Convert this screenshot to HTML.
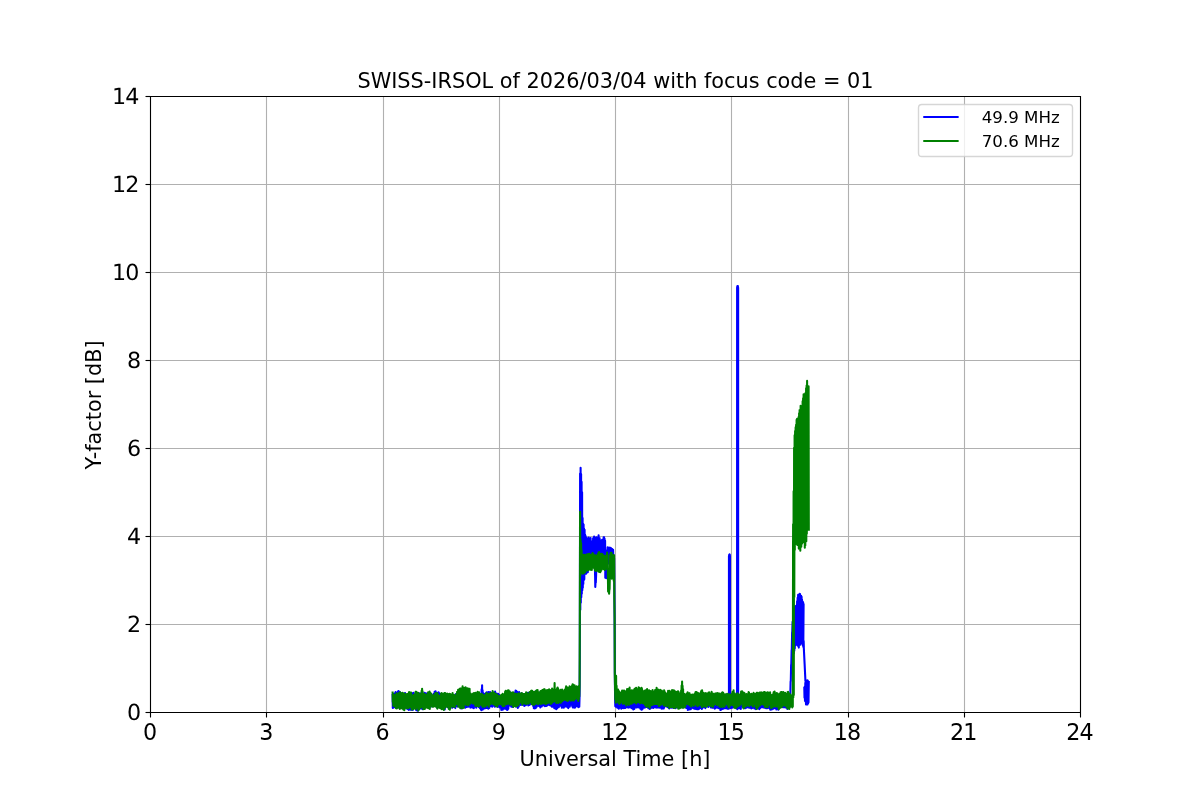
<!DOCTYPE html>
<html lang="en">
<head>
<meta charset="utf-8">
<title>SWISS-IRSOL of 2026/03/04 with focus code = 01</title>
<style>
html,body{margin:0;padding:0;background:#fff;}
body{width:1200px;height:800px;overflow:hidden;}
svg{display:block;}
svg text{font-family:"DejaVu Sans", "Liberation Sans", sans-serif;fill:#000;}
.grid line{stroke:#b0b0b0;stroke-width:1.11;}
.axis line{stroke:#000;stroke-width:1.11;}
.tl{font-size:22.22px;}
.lab{font-size:20.83px;}
.leg{font-size:16.67px;white-space:pre;}
.series{fill:none;stroke-width:2.08;stroke-linejoin:round;stroke-linecap:square;}
</style>
</head>
<body>
<svg width="1200" height="800" viewBox="0 0 1200 800">
<rect x="0" y="0" width="1200" height="800" fill="#ffffff"/>
<g class="grid">
<line x1="266.5" y1="96.5" x2="266.5" y2="712.5"/>
<line x1="383.5" y1="96.5" x2="383.5" y2="712.5"/>
<line x1="499.5" y1="96.5" x2="499.5" y2="712.5"/>
<line x1="615.5" y1="96.5" x2="615.5" y2="712.5"/>
<line x1="731.5" y1="96.5" x2="731.5" y2="712.5"/>
<line x1="848.5" y1="96.5" x2="848.5" y2="712.5"/>
<line x1="964.5" y1="96.5" x2="964.5" y2="712.5"/>
<line x1="150.5" y1="624.5" x2="1080.5" y2="624.5"/>
<line x1="150.5" y1="536.5" x2="1080.5" y2="536.5"/>
<line x1="150.5" y1="448.5" x2="1080.5" y2="448.5"/>
<line x1="150.5" y1="360.5" x2="1080.5" y2="360.5"/>
<line x1="150.5" y1="272.5" x2="1080.5" y2="272.5"/>
<line x1="150.5" y1="184.5" x2="1080.5" y2="184.5"/>
</g>
<clipPath id="ax"><rect x="150.5" y="96.5" width="930" height="616"/></clipPath>
<g clip-path="url(#ax)">
<path class="series" stroke="#0000ff" d="M392.6,694.9 L392.8,707.9 L393.1,694.1 L393.3,707.6 L393.6,697.2 L393.8,707.3 L394.1,694.0 L394.3,707.1 L394.6,693.2 L394.8,704.8 L395.1,695.5 L395.3,704.8 L395.6,692.1 L395.8,704.6 L396.1,693.0 L396.3,706.6 L396.6,693.5 L396.8,706.0 L397.1,693.0 L397.3,704.0 L397.6,692.2 L397.8,703.2 L398.1,691.2 L398.3,704.0 L398.6,691.1 L398.8,707.4 L399.1,692.0 L399.3,707.5 L399.6,694.5 L399.8,706.9 L400.1,692.3 L400.3,707.6 L400.6,693.6 L400.8,706.0 L401.1,693.2 L401.3,705.9 L401.6,694.0 L401.8,707.4 L402.1,694.9 L402.3,705.8 L402.6,695.1 L402.8,707.5 L403.1,695.1 L403.3,708.4 L403.6,697.9 L403.8,705.3 L404.1,693.5 L404.3,706.4 L404.6,693.4 L404.8,706.7 L405.1,693.0 L405.3,706.9 L405.6,697.3 L405.8,705.3 L406.1,694.7 L406.3,708.4 L406.6,698.0 L406.8,708.3 L407.1,698.7 L407.3,708.5 L407.6,698.7 L407.8,709.1 L408.1,700.5 L408.3,708.4 L408.6,698.6 L408.8,709.9 L409.1,695.1 L409.3,709.6 L409.6,695.0 L409.8,706.0 L410.1,697.1 L410.3,709.6 L410.6,697.5 L410.8,709.1 L411.1,695.1 L411.3,709.6 L411.6,695.8 L411.8,709.3 L412.1,693.8 L412.3,708.5 L412.6,693.4 L412.8,710.0 L413.1,694.8 L413.3,708.1 L413.6,692.7 L413.8,707.6 L414.1,695.8 L414.3,707.5 L414.6,695.3 L414.8,707.6 L415.1,700.2 L415.3,706.1 L415.6,695.9 L415.8,709.0 L416.1,696.1 L416.3,710.2 L416.6,696.1 L416.8,709.8 L417.1,694.4 L417.3,705.9 L417.6,694.5 L417.8,710.7 L418.1,694.3 L418.3,707.9 L418.6,695.5 L418.8,707.0 L419.1,693.6 L419.3,708.0 L419.6,694.5 L419.8,708.6 L420.1,693.3 L420.3,707.0 L420.6,694.3 L420.8,708.3 L421.1,694.1 L421.3,706.9 L421.6,695.8 L421.8,707.5 L422.1,695.6 L422.3,709.1 L422.6,696.9 L422.8,704.7 L423.1,693.9 L423.3,706.1 L423.6,695.0 L423.8,706.3 L424.1,694.2 L424.3,704.7 L424.6,692.8 L424.8,703.8 L425.1,696.3 L425.3,704.8 L425.6,693.6 L425.8,703.3 L426.1,694.0 L426.3,705.9 L426.6,694.8 L426.8,704.2 L427.1,693.4 L427.3,706.2 L427.6,694.1 L427.8,705.9 L428.1,696.3 L428.3,705.1 L428.6,695.1 L428.8,705.0 L429.1,695.6 L429.3,702.6 L429.6,696.3 L429.8,701.6 L430.1,698.1 L430.3,703.6 L430.6,696.4 L430.8,706.7 L431.1,695.3 L431.3,704.3 L431.6,698.1 L431.8,701.1 L432.1,696.8 L432.3,705.1 L432.6,695.4 L432.8,701.7 L433.1,695.3 L433.3,703.9 L433.6,693.8 L433.8,704.1 L434.1,695.1 L434.3,703.9 L434.6,691.8 L434.8,701.0 L435.1,692.1 L435.3,704.7 L435.6,691.4 L435.8,705.9 L436.1,693.3 L436.3,704.8 L436.6,693.2 L436.8,707.5 L437.1,692.8 L437.3,706.6 L437.6,695.1 L437.8,706.4 L438.1,694.3 L438.3,706.7 L438.6,692.4 L438.8,703.1 L439.1,693.2 L439.3,705.6 L439.6,693.9 L439.8,704.5 L440.1,693.7 L440.3,703.2 L440.6,696.3 L440.8,705.7 L441.1,696.3 L441.3,706.2 L441.6,695.9 L441.8,707.4 L442.1,694.6 L442.3,707.1 L442.6,694.5 L442.8,706.1 L443.1,694.2 L443.3,706.8 L443.6,695.7 L443.8,708.6 L444.1,695.3 L444.3,708.5 L444.6,695.3 L444.8,709.5 L445.1,698.4 L445.3,706.6 L445.6,696.6 L445.8,706.7 L446.1,695.1 L446.3,705.3 L446.6,696.6 L446.8,705.0 L447.1,696.6 L447.3,704.2 L447.6,700.5 L447.8,707.1 L448.1,698.7 L448.3,707.5 L448.6,696.9 L448.8,706.0 L449.1,696.5 L449.3,703.8 L449.6,698.9 L449.8,707.4 L450.1,698.5 L450.3,706.9 L450.6,698.0 L450.8,706.3 L451.1,695.5 L451.3,705.3 L451.6,698.1 L451.8,705.2 L452.1,698.1 L452.3,707.7 L452.6,695.4 L452.8,702.0 L453.1,696.3 L453.3,706.7 L453.6,697.4 L453.8,707.0 L454.1,695.7 L454.3,703.5 L454.6,695.6 L454.8,707.2 L455.1,695.2 L455.3,708.1 L455.6,694.2 L455.8,706.0 L456.1,694.4 L456.3,704.3 L456.6,694.8 L456.8,705.2 L457.1,697.2 L457.3,706.5 L457.6,696.2 L457.8,704.3 L458.1,695.8 L458.3,702.4 L458.6,694.7 L458.8,705.6 L459.1,694.4 L459.3,706.5 L459.6,695.7 L459.8,707.0 L460.1,694.2 L460.3,702.4 L460.6,693.3 L460.8,708.1 L461.1,693.1 L461.3,707.4 L461.6,695.1 L461.8,708.5 L462.1,695.1 L462.3,707.8 L462.6,694.0 L462.8,707.4 L463.1,695.6 L463.3,705.3 L463.6,696.2 L463.8,704.0 L464.1,694.6 L464.3,705.9 L464.6,695.3 L464.8,707.5 L465.1,694.7 L465.3,707.8 L465.6,696.1 L465.8,705.2 L466.1,696.9 L466.3,706.1 L466.6,695.3 L466.8,707.0 L467.1,697.6 L467.3,705.3 L467.6,695.6 L467.8,704.7 L468.1,699.1 L468.3,706.8 L468.6,698.2 L468.8,705.8 L469.1,695.9 L469.3,705.8 L469.6,696.3 L469.8,704.4 L470.1,695.4 L470.3,707.6 L470.6,694.8 L470.8,705.2 L471.1,694.7 L471.3,707.2 L471.6,697.3 L471.8,705.0 L472.1,697.5 L472.3,707.6 L472.6,694.8 L472.8,707.1 L473.1,698.0 L473.3,707.3 L473.6,699.4 L473.8,708.3 L474.1,695.7 L474.3,707.0 L474.6,698.6 L474.8,706.8 L475.1,694.5 L475.3,704.9 L475.6,694.6 L475.8,706.4 L476.1,693.9 L476.3,707.7 L476.6,699.5 L476.8,706.5 L477.1,697.4 L477.3,706.2 L477.6,696.3 L477.8,702.2 L478.1,695.1 L478.3,704.9 L478.6,697.2 L478.8,706.9 L479.1,693.9 L479.3,705.3 L479.6,695.5 L479.8,708.1 L480.1,694.2 L480.3,707.6 L480.6,695.6 L480.8,709.3 L481.1,695.7 L481.3,710.2 L481.6,689.4 L481.8,705.6 L482.1,685.2 L482.3,709.1 L482.6,690.2 L482.8,709.6 L483.1,693.1 L483.3,707.3 L483.6,693.6 L483.8,707.8 L484.1,694.4 L484.3,708.5 L484.6,696.3 L484.8,707.9 L485.1,693.8 L485.3,708.3 L485.6,694.1 L485.8,705.2 L486.1,693.1 L486.3,707.7 L486.6,692.2 L486.8,708.0 L487.1,693.7 L487.3,707.8 L487.6,692.8 L487.8,707.8 L488.1,693.2 L488.3,708.8 L488.6,692.1 L488.8,706.4 L489.1,693.1 L489.3,707.9 L489.6,693.5 L489.8,706.7 L490.1,692.1 L490.3,703.7 L490.6,693.3 L490.8,705.4 L491.1,693.6 L491.3,704.7 L491.6,693.5 L491.8,706.4 L492.1,694.3 L492.3,706.7 L492.6,695.6 L492.8,705.3 L493.1,695.3 L493.3,704.2 L493.6,695.5 L493.8,705.6 L494.1,693.4 L494.3,705.1 L494.6,694.4 L494.8,706.8 L495.1,691.6 L495.3,706.5 L495.6,695.3 L495.8,703.7 L496.1,693.5 L496.3,706.1 L496.6,693.6 L496.8,703.8 L497.1,697.8 L497.3,705.1 L497.6,694.4 L497.8,707.0 L498.1,693.9 L498.3,706.2 L498.6,697.4 L498.8,705.6 L499.1,694.9 L499.3,706.3 L499.6,695.7 L499.8,707.5 L500.1,696.5 L500.3,707.0 L500.6,696.8 L500.8,708.0 L501.1,696.2 L501.3,709.9 L501.6,696.8 L501.8,706.6 L502.1,695.8 L502.3,709.6 L502.6,696.0 L502.8,709.7 L503.1,696.0 L503.3,708.5 L503.6,696.3 L503.8,707.3 L504.1,696.4 L504.3,707.4 L504.6,694.9 L504.8,708.8 L505.1,695.5 L505.3,708.7 L505.6,695.4 L505.8,706.1 L506.1,693.1 L506.3,709.1 L506.6,692.8 L506.8,709.8 L507.1,692.6 L507.3,709.9 L507.6,694.1 L507.8,709.5 L508.1,692.6 L508.3,708.7 L508.6,691.3 L508.8,704.5 L509.1,694.0 L509.3,705.6 L509.6,693.1 L509.8,705.4 L510.1,692.3 L510.3,701.6 L510.6,693.0 L510.8,703.7 L511.1,694.7 L511.3,706.8 L511.6,694.7 L511.8,706.8 L512.1,693.7 L512.3,704.5 L512.6,693.6 L512.8,707.0 L513.1,695.1 L513.3,704.1 L513.6,694.6 L513.8,705.5 L514.1,694.5 L514.3,703.9 L514.6,693.5 L514.8,705.7 L515.1,692.2 L515.3,705.9 L515.6,690.5 L515.8,706.6 L516.1,690.7 L516.3,704.7 L516.6,691.4 L516.8,706.1 L517.1,692.7 L517.3,705.7 L517.6,692.2 L517.8,708.0 L518.1,694.2 L518.3,704.0 L518.6,692.7 L518.8,706.6 L519.1,692.1 L519.3,704.4 L519.6,693.5 L519.8,704.5 L520.1,693.7 L520.3,703.6 L520.6,694.8 L520.8,704.9 L521.1,694.4 L521.3,703.8 L521.6,693.3 L521.8,703.3 L522.1,693.9 L522.3,704.8 L522.6,695.6 L522.8,704.6 L523.1,694.0 L523.3,703.6 L523.6,694.5 L523.8,703.0 L524.1,694.4 L524.3,705.9 L524.6,694.7 L524.8,703.3 L525.1,696.3 L525.3,705.3 L525.6,694.6 L525.8,705.3 L526.1,697.8 L526.3,704.7 L526.6,693.5 L526.8,702.6 L527.1,695.3 L527.3,704.1 L527.6,694.4 L527.8,701.2 L528.1,692.9 L528.3,705.5 L528.6,694.0 L528.8,703.9 L529.1,694.4 L529.3,705.0 L529.6,694.9 L529.8,704.6 L530.1,695.4 L530.3,703.9 L530.6,695.5 L530.8,701.3 L531.1,693.7 L531.3,702.7 L531.6,693.0 L531.8,702.6 L532.1,693.7 L532.3,704.3 L532.6,696.5 L532.8,704.7 L533.1,695.1 L533.3,706.3 L533.6,694.2 L533.8,708.2 L534.1,697.9 L534.3,707.1 L534.6,693.4 L534.8,708.5 L535.1,693.4 L535.3,707.4 L535.6,691.6 L535.8,708.0 L536.1,691.5 L536.3,706.1 L536.6,691.6 L536.8,706.6 L537.1,694.6 L537.3,705.5 L537.6,695.0 L537.8,704.0 L538.1,694.5 L538.3,705.3 L538.6,694.3 L538.8,706.0 L539.1,693.2 L539.3,704.2 L539.6,692.5 L539.8,705.8 L540.1,693.9 L540.3,707.4 L540.6,694.8 L540.8,706.5 L541.1,692.2 L541.3,706.4 L541.6,693.1 L541.8,706.4 L542.1,694.1 L542.3,703.4 L542.6,694.8 L542.8,704.6 L543.1,694.9 L543.3,704.7 L543.6,695.5 L543.8,705.5 L544.1,696.7 L544.3,704.0 L544.6,695.8 L544.8,706.1 L545.1,695.5 L545.3,701.7 L545.6,694.0 L545.8,705.8 L546.1,693.8 L546.3,706.0 L546.6,694.8 L546.8,703.6 L547.1,696.2 L547.3,705.5 L547.6,694.7 L547.8,704.2 L548.1,696.7 L548.3,704.7 L548.6,696.8 L548.8,703.1 L549.1,694.9 L549.3,704.9 L549.6,696.3 L549.8,703.9 L550.1,696.0 L550.3,705.4 L550.6,693.5 L550.8,705.5 L551.1,694.6 L551.3,705.6 L551.6,694.5 L551.8,706.8 L552.1,695.2 L552.3,706.4 L552.6,694.0 L552.8,703.1 L553.1,694.3 L553.3,706.7 L553.6,696.0 L553.8,706.7 L554.1,695.1 L554.3,708.3 L554.6,696.8 L554.8,707.8 L555.1,697.0 L555.3,708.5 L555.6,696.2 L555.8,705.8 L556.1,695.5 L556.3,709.3 L556.6,695.5 L556.8,708.3 L557.1,695.8 L557.3,708.3 L557.6,695.3 L557.8,706.0 L558.1,696.6 L558.3,706.4 L558.6,695.0 L558.8,707.1 L559.1,696.3 L559.3,704.5 L559.6,696.5 L559.8,703.2 L560.1,693.6 L560.3,705.7 L560.6,692.8 L560.8,705.8 L561.1,693.1 L561.3,706.1 L561.6,692.9 L561.8,707.8 L562.1,693.4 L562.3,704.2 L562.6,692.3 L562.8,707.5 L563.1,693.0 L563.3,706.8 L563.6,695.0 L563.8,707.7 L564.1,695.8 L564.3,706.1 L564.6,694.4 L564.8,706.2 L565.1,694.2 L565.3,706.4 L565.6,692.7 L565.8,705.7 L566.1,693.1 L566.3,705.2 L566.6,693.9 L566.8,706.8 L567.1,695.1 L567.3,704.6 L567.6,693.5 L567.8,707.4 L568.1,693.4 L568.3,708.1 L568.6,694.7 L568.8,705.3 L569.1,694.9 L569.3,706.6 L569.6,693.9 L569.8,706.8 L570.1,696.6 L570.3,704.2 L570.6,695.2 L570.8,703.9 L571.1,695.0 L571.3,704.8 L571.6,693.2 L571.8,702.6 L572.1,694.3 L572.3,706.5 L572.6,693.7 L572.8,707.5 L573.1,696.0 L573.3,706.4 L573.6,696.5 L573.8,707.3 L574.1,695.0 L574.3,707.6 L574.6,695.9 L574.8,706.7 L575.1,695.0 L575.3,707.4 L575.6,694.8 L575.8,706.4 L576.1,696.5 L576.3,705.8 L576.6,693.8 L576.8,703.3 L577.1,694.1 L577.3,706.0 L577.6,694.6 L577.8,706.3 L578.1,694.5 L578.3,707.3 L578.6,694.0 L578.8,706.6 L579.1,695.6 L579.3,706.8 L579.6,695.2 L579.8,656.4 L580.1,473.5 L580.3,609.8 L580.6,467.8 L580.8,602.8 L581.1,474.1 L581.3,597.2 L581.6,481.9 L581.8,593.7 L582.1,492.3 L582.3,590.2 L582.6,518.0 L582.8,587.7 L583.1,523.9 L583.3,583.9 L583.6,524.6 L583.8,580.2 L584.1,528.9 L584.3,579.3 L584.6,529.7 L584.8,573.2 L585.1,534.7 L585.3,573.6 L585.6,536.1 L585.8,573.7 L586.1,537.6 L586.3,573.6 L586.6,538.0 L586.8,568.7 L587.1,540.1 L587.3,568.5 L587.6,539.2 L587.8,572.3 L588.1,543.7 L588.3,567.6 L588.6,537.6 L588.8,568.4 L589.1,538.8 L589.3,566.0 L589.6,540.4 L589.8,566.5 L590.1,541.1 L590.3,564.8 L590.6,538.1 L590.8,568.0 L591.1,542.3 L591.3,566.6 L591.6,543.4 L591.8,566.4 L592.1,541.2 L592.3,567.1 L592.6,542.0 L592.8,565.3 L593.1,538.3 L593.3,565.3 L593.6,537.8 L593.8,565.8 L594.1,536.5 L594.3,566.2 L594.6,537.3 L594.8,562.7 L595.1,575.9 L595.3,586.9 L595.6,581.1 L595.8,582.8 L596.1,575.5 L596.3,565.4 L596.6,537.3 L596.8,566.4 L597.1,538.1 L597.3,565.6 L597.6,537.7 L597.8,562.9 L598.1,537.8 L598.3,563.0 L598.6,535.2 L598.8,563.1 L599.1,538.0 L599.3,559.8 L599.6,538.1 L599.8,563.1 L600.1,540.4 L600.3,563.1 L600.6,540.2 L600.8,564.4 L601.1,541.4 L601.3,565.2 L601.6,540.3 L601.8,565.0 L602.1,539.9 L602.3,566.4 L602.6,541.4 L602.8,564.8 L603.1,540.4 L603.3,564.6 L603.6,537.4 L603.8,564.1 L604.1,537.2 L604.3,563.3 L604.6,538.8 L604.8,563.9 L605.1,540.8 L605.3,577.7 L605.6,573.6 L605.8,575.8 L606.1,573.5 L606.3,578.2 L606.6,551.4 L606.8,564.7 L607.1,550.3 L607.3,562.8 L607.6,547.4 L607.8,563.1 L608.1,550.4 L608.3,563.6 L608.6,548.7 L608.8,560.9 L609.1,547.6 L609.3,563.2 L609.6,550.4 L609.8,562.5 L610.1,550.9 L610.3,561.1 L610.6,547.8 L610.8,562.0 L611.1,548.4 L611.3,563.1 L611.6,550.4 L611.8,562.7 L612.1,549.1 L612.3,565.4 L612.6,551.2 L612.8,563.9 L613.1,549.7 L613.3,561.1 L613.6,555.1 L613.8,564.5 L614.1,558.3 L614.3,582.0 L614.6,622.1 L614.8,672.9 L615.1,699.4 L615.3,706.1 L615.6,697.9 L615.8,706.8 L616.1,697.8 L616.3,705.7 L616.6,698.4 L616.8,705.7 L617.1,696.9 L617.3,707.8 L617.6,698.4 L617.8,706.8 L618.1,698.2 L618.3,707.5 L618.6,698.9 L618.8,708.8 L619.1,699.2 L619.3,707.9 L619.6,700.0 L619.8,706.7 L620.1,701.4 L620.3,705.8 L620.6,700.5 L620.8,706.8 L621.1,700.3 L621.3,708.6 L621.6,698.6 L621.8,707.8 L622.1,698.9 L622.3,707.9 L622.6,699.9 L622.8,706.3 L623.1,699.5 L623.3,708.0 L623.6,701.3 L623.8,708.1 L624.1,700.4 L624.3,705.5 L624.6,700.2 L624.8,707.4 L625.1,698.8 L625.3,708.0 L625.6,699.1 L625.8,707.2 L626.1,698.6 L626.3,707.1 L626.6,698.3 L626.8,706.7 L627.1,697.6 L627.3,707.0 L627.6,699.4 L627.8,707.4 L628.1,697.9 L628.3,706.5 L628.6,698.5 L628.8,707.6 L629.1,698.8 L629.3,706.8 L629.6,697.8 L629.8,706.9 L630.1,697.7 L630.3,706.6 L630.6,698.3 L630.8,707.6 L631.1,698.2 L631.3,707.2 L631.6,698.8 L631.8,708.3 L632.1,699.0 L632.3,708.5 L632.6,698.5 L632.8,708.4 L633.1,697.3 L633.3,709.4 L633.6,696.8 L633.8,706.7 L634.1,698.4 L634.3,708.9 L634.6,696.8 L634.8,707.8 L635.1,697.6 L635.3,707.4 L635.6,697.3 L635.8,706.7 L636.1,698.4 L636.3,706.1 L636.6,697.9 L636.8,707.4 L637.1,700.3 L637.3,707.2 L637.6,698.2 L637.8,707.0 L638.1,697.9 L638.3,706.8 L638.6,697.9 L638.8,707.4 L639.1,698.4 L639.3,707.1 L639.6,698.7 L639.8,707.7 L640.1,700.4 L640.3,708.8 L640.6,699.1 L640.8,709.0 L641.1,697.6 L641.3,709.6 L641.6,698.8 L641.8,709.6 L642.1,700.3 L642.3,708.8 L642.6,700.1 L642.8,708.6 L643.1,699.6 L643.3,705.2 L643.6,701.8 L643.8,707.2 L644.1,700.2 L644.3,707.3 L644.6,700.6 L644.8,707.7 L645.1,698.0 L645.3,705.9 L645.6,699.4 L645.8,705.5 L646.1,699.6 L646.3,706.9 L646.6,698.9 L646.8,706.7 L647.1,698.5 L647.3,705.7 L647.6,702.6 L647.8,707.2 L648.1,700.0 L648.3,708.1 L648.6,700.7 L648.8,707.5 L649.1,699.5 L649.3,707.6 L649.6,702.4 L649.8,708.9 L650.1,701.3 L650.3,708.5 L650.6,699.6 L650.8,708.3 L651.1,700.5 L651.3,706.2 L651.6,700.5 L651.8,706.3 L652.1,698.3 L652.3,707.6 L652.6,698.8 L652.8,707.4 L653.1,698.5 L653.3,707.9 L653.6,699.5 L653.8,706.1 L654.1,699.7 L654.3,707.0 L654.6,700.8 L654.8,707.3 L655.1,700.5 L655.3,706.6 L655.6,702.4 L655.8,707.4 L656.1,699.6 L656.3,705.9 L656.6,698.0 L656.8,707.6 L657.1,700.9 L657.3,706.9 L657.6,698.3 L657.8,706.7 L658.1,697.3 L658.3,707.4 L658.6,698.5 L658.8,706.0 L659.1,700.4 L659.3,707.7 L659.6,698.3 L659.8,706.6 L660.1,699.8 L660.3,705.0 L660.6,699.7 L660.8,704.9 L661.1,697.7 L661.3,708.4 L661.6,698.7 L661.8,708.8 L662.1,701.3 L662.3,708.5 L662.6,698.3 L662.8,705.9 L663.1,697.6 L663.3,708.5 L663.6,699.0 L663.8,708.4 L664.1,697.5 L664.3,707.3 L664.6,698.1 L664.8,706.3 L665.1,697.4 L665.3,706.1 L665.6,698.1 L665.8,704.5 L666.1,697.3 L666.3,704.6 L666.6,699.4 L666.8,705.8 L667.1,697.2 L667.3,707.0 L667.6,700.4 L667.8,707.3 L668.1,699.8 L668.3,706.4 L668.6,698.6 L668.8,707.9 L669.1,699.8 L669.3,708.4 L669.6,700.6 L669.8,707.3 L670.1,699.2 L670.3,706.8 L670.6,697.4 L670.8,705.2 L671.1,698.3 L671.3,707.8 L671.6,699.0 L671.8,706.1 L672.1,698.3 L672.3,707.5 L672.6,698.1 L672.8,707.3 L673.1,698.4 L673.3,707.9 L673.6,700.0 L673.8,707.5 L674.1,697.7 L674.3,707.1 L674.6,700.3 L674.8,707.5 L675.1,700.5 L675.3,708.3 L675.6,700.7 L675.8,707.6 L676.1,700.0 L676.3,705.3 L676.6,701.5 L676.8,705.6 L677.1,700.3 L677.3,707.4 L677.6,698.8 L677.8,707.0 L678.1,697.9 L678.3,705.0 L678.6,700.4 L678.8,706.7 L679.1,698.4 L679.3,705.5 L679.6,698.6 L679.8,706.6 L680.1,698.9 L680.3,705.7 L680.6,700.3 L680.8,705.9 L681.1,699.3 L681.3,706.2 L681.6,699.7 L681.8,707.0 L682.1,699.5 L682.3,706.6 L682.6,698.9 L682.8,704.1 L683.1,699.4 L683.3,703.2 L683.6,700.2 L683.8,704.7 L684.1,699.3 L684.3,702.9 L684.6,699.2 L684.8,705.9 L685.1,700.1 L685.3,704.6 L685.6,699.9 L685.8,707.8 L686.1,697.5 L686.3,707.9 L686.6,699.5 L686.8,706.0 L687.1,698.4 L687.3,708.3 L687.6,698.6 L687.8,710.0 L688.1,699.8 L688.3,709.0 L688.6,699.4 L688.8,709.1 L689.1,700.3 L689.3,709.5 L689.6,699.4 L689.8,706.6 L690.1,699.8 L690.3,707.2 L690.6,699.8 L690.8,709.3 L691.1,699.8 L691.3,707.7 L691.6,698.4 L691.8,707.6 L692.1,696.7 L692.3,706.8 L692.6,695.8 L692.8,706.4 L693.1,695.3 L693.3,708.3 L693.6,695.6 L693.8,707.3 L694.1,696.0 L694.3,708.8 L694.6,697.5 L694.8,708.6 L695.1,696.3 L695.3,708.8 L695.6,697.5 L695.8,708.9 L696.1,698.0 L696.3,707.7 L696.6,697.4 L696.8,709.1 L697.1,698.3 L697.3,708.1 L697.6,699.9 L697.8,709.1 L698.1,698.8 L698.3,709.1 L698.6,700.4 L698.8,708.7 L699.1,699.8 L699.3,708.6 L699.6,700.2 L699.8,708.3 L700.1,698.4 L700.3,707.9 L700.6,699.7 L700.8,706.0 L701.1,698.9 L701.3,705.9 L701.6,700.5 L701.8,708.9 L702.1,699.6 L702.3,708.5 L702.6,699.6 L702.8,707.3 L703.1,699.9 L703.3,707.1 L703.6,697.9 L703.8,706.8 L704.1,696.6 L704.3,707.0 L704.6,697.5 L704.8,705.8 L705.1,698.1 L705.3,708.1 L705.6,697.3 L705.8,706.7 L706.1,697.6 L706.3,705.9 L706.6,699.1 L706.8,705.8 L707.1,700.7 L707.3,705.5 L707.6,697.6 L707.8,705.7 L708.1,699.9 L708.3,707.0 L708.6,700.6 L708.8,705.9 L709.1,699.5 L709.3,704.9 L709.6,700.6 L709.8,705.6 L710.1,699.9 L710.3,705.3 L710.6,699.9 L710.8,707.4 L711.1,698.5 L711.3,705.2 L711.6,698.4 L711.8,706.8 L712.1,699.3 L712.3,707.7 L712.6,697.1 L712.8,707.2 L713.1,697.9 L713.3,706.1 L713.6,697.6 L713.8,707.8 L714.1,699.3 L714.3,707.4 L714.6,698.4 L714.8,708.8 L715.1,700.6 L715.3,707.9 L715.6,699.0 L715.8,707.9 L716.1,698.7 L716.3,707.4 L716.6,698.8 L716.8,707.5 L717.1,697.2 L717.3,706.5 L717.6,697.3 L717.8,706.0 L718.1,696.2 L718.3,708.2 L718.6,696.6 L718.8,707.9 L719.1,697.8 L719.3,705.5 L719.6,697.9 L719.8,707.9 L720.1,697.4 L720.3,709.9 L720.6,698.6 L720.8,709.9 L721.1,696.9 L721.3,709.4 L721.6,698.4 L721.8,709.1 L722.1,696.8 L722.3,709.0 L722.6,697.6 L722.8,708.3 L723.1,695.7 L723.3,708.6 L723.6,697.3 L723.8,708.5 L724.1,697.5 L724.3,707.3 L724.6,699.7 L724.8,707.5 L725.1,700.0 L725.3,708.3 L725.6,698.2 L725.8,708.0 L726.1,697.8 L726.3,708.1 L726.6,699.3 L726.8,707.2 L727.1,700.4 L727.3,708.7 L727.6,698.7 L727.8,708.3 L728.1,700.5 L728.3,708.7 L728.6,699.6 L728.8,708.8 L729.1,700.4 L729.3,707.2 L729.6,554.5 L729.8,707.8 L730.1,699.4 L730.3,707.5 L730.6,698.9 L730.8,708.2 L731.1,702.6 L731.3,707.8 L731.6,700.8 L731.8,707.2 L732.1,701.8 L732.3,707.7 L732.6,702.0 L732.8,706.7 L733.1,701.4 L733.3,704.0 L733.6,701.4 L733.8,706.1 L734.1,700.1 L734.3,707.4 L734.6,700.7 L734.8,706.2 L735.1,700.4 L735.3,707.5 L735.6,699.6 L735.8,705.6 L736.1,699.5 L736.3,707.6 L736.6,701.0 L736.8,708.4 L737.1,699.3 L737.3,709.3 L737.6,286.1 L737.8,706.9 L738.1,698.6 L738.3,706.9 L738.6,697.5 L738.8,708.2 L739.1,698.5 L739.3,708.0 L739.6,701.2 L739.8,706.7 L740.1,697.8 L740.3,708.6 L740.6,698.0 L740.8,708.9 L741.1,699.2 L741.3,706.8 L741.6,699.0 L741.8,706.2 L742.1,698.8 L742.3,705.2 L742.6,699.5 L742.8,704.0 L743.1,699.2 L743.3,706.9 L743.6,699.7 L743.8,706.6 L744.1,699.5 L744.3,707.9 L744.6,700.0 L744.8,708.0 L745.1,700.3 L745.3,708.3 L745.6,697.7 L745.8,708.0 L746.1,697.9 L746.3,707.1 L746.6,700.1 L746.8,707.4 L747.1,698.2 L747.3,707.1 L747.6,698.0 L747.8,706.4 L748.1,698.3 L748.3,705.7 L748.6,698.9 L748.8,707.6 L749.1,698.7 L749.3,707.3 L749.6,699.9 L749.8,707.6 L750.1,697.3 L750.3,706.7 L750.6,696.9 L750.8,705.9 L751.1,700.5 L751.3,708.5 L751.6,700.6 L751.8,708.2 L752.1,700.3 L752.3,707.9 L752.6,699.1 L752.8,705.1 L753.1,700.7 L753.3,706.4 L753.6,701.0 L753.8,706.4 L754.1,698.6 L754.3,708.4 L754.6,699.1 L754.8,704.7 L755.1,698.4 L755.3,707.6 L755.6,697.9 L755.8,709.1 L756.1,698.1 L756.3,708.5 L756.6,699.5 L756.8,708.0 L757.1,698.9 L757.3,708.3 L757.6,697.7 L757.8,707.8 L758.1,697.9 L758.3,707.8 L758.6,697.6 L758.8,708.8 L759.1,698.8 L759.3,709.1 L759.6,699.8 L759.8,707.8 L760.1,700.0 L760.3,708.0 L760.6,699.0 L760.8,707.0 L761.1,699.2 L761.3,706.7 L761.6,701.8 L761.8,707.1 L762.1,699.6 L762.3,706.5 L762.6,698.9 L762.8,707.3 L763.1,699.5 L763.3,707.4 L763.6,699.6 L763.8,706.1 L764.1,699.1 L764.3,707.7 L764.6,697.6 L764.8,707.1 L765.1,698.0 L765.3,707.3 L765.6,697.7 L765.8,708.1 L766.1,696.9 L766.3,706.6 L766.6,698.1 L766.8,707.8 L767.1,699.1 L767.3,708.3 L767.6,701.0 L767.8,707.8 L768.1,698.9 L768.3,707.6 L768.6,699.1 L768.8,706.9 L769.1,698.2 L769.3,708.3 L769.6,697.3 L769.8,708.8 L770.1,697.1 L770.3,709.8 L770.6,698.0 L770.8,709.0 L771.1,697.6 L771.3,708.1 L771.6,696.5 L771.8,709.4 L772.1,699.2 L772.3,708.9 L772.6,697.3 L772.8,707.6 L773.1,696.5 L773.3,708.8 L773.6,696.9 L773.8,708.3 L774.1,698.5 L774.3,708.3 L774.6,698.1 L774.8,708.0 L775.1,698.7 L775.3,707.5 L775.6,698.6 L775.8,707.6 L776.1,698.3 L776.3,709.5 L776.6,697.4 L776.8,707.6 L777.1,699.7 L777.3,707.8 L777.6,698.7 L777.8,709.3 L778.1,701.0 L778.3,709.6 L778.6,698.9 L778.8,708.8 L779.1,698.9 L779.3,707.0 L779.6,698.6 L779.8,706.1 L780.1,699.0 L780.3,707.3 L780.6,698.0 L780.8,705.8 L781.1,698.4 L781.3,706.9 L781.6,698.1 L781.8,706.9 L782.1,699.7 L782.3,705.0 L782.6,698.5 L782.8,707.2 L783.1,698.4 L783.3,705.9 L783.6,698.1 L783.8,707.3 L784.1,698.4 L784.3,705.5 L784.6,699.5 L784.8,706.4 L785.1,697.5 L785.3,707.4 L785.6,698.4 L785.8,706.9 L786.1,697.6 L786.3,705.3 L786.6,699.2 L786.8,707.8 L787.1,698.5 L787.3,709.0 L787.6,699.0 L787.8,705.6 L788.1,698.2 L788.3,707.6 L788.6,701.0 L788.8,706.3 L789.1,700.5 L789.3,707.7 L789.6,699.4 L789.8,706.8 L790.1,695.7 L790.3,695.3 L790.6,681.6 L790.8,680.9 L791.1,665.2 L791.3,663.8 L791.6,650.3 L791.8,649.1 L792.1,633.0 L792.3,631.5 L792.6,621.8 L792.8,639.7 L793.1,617.3 L793.3,654.1 L793.6,613.8 L793.8,653.2 L794.1,609.8 L794.3,650.8 L794.6,608.9 L794.8,648.4 L795.1,606.8 L795.3,645.6 L795.6,607.9 L795.8,644.9 L796.1,605.9 L796.3,642.7 L796.6,605.6 L796.8,644.6 L797.1,601.3 L797.3,641.3 L797.6,597.9 L797.8,645.8 L798.1,594.9 L798.3,646.1 L798.6,596.4 L798.8,647.6 L799.1,596.4 L799.3,643.0 L799.6,593.9 L799.8,644.2 L800.1,594.0 L800.3,644.7 L800.6,595.9 L800.8,641.4 L801.1,595.8 L801.3,637.3 L801.6,596.8 L801.8,642.8 L802.1,599.9 L802.3,643.8 L802.6,602.8 L802.8,645.3 L803.1,602.1 L803.3,646.8 L803.6,604.6"/>
<path class="series" stroke="#0000ff" d="M728.95,701.0 L728.95,556.2 L729.45,554.5 L729.95,556.2 L729.95,701.0"/>
<path class="series" stroke="#0000ff" d="M737.15,701.0 L737.15,287.8 L737.65,286.1 L738.15,287.8 L738.15,701.0"/>
<path class="series" stroke="#0000ff" d="M803.5,641.6 L804.6,663.6 L805.4,680.3"/>
<path class="series" stroke="#0000ff" d="M804.3,687.8 L804.5,697.7 L804.8,686.8 L805.0,700.9 L805.3,682.9 L805.5,701.6 L805.8,681.0 L806.0,704.4 L806.3,680.8 L806.5,703.2 L806.8,681.4 L807.0,704.1 L807.3,680.2 L807.5,704.4 L807.8,680.6 L808.0,703.4 L808.3,682.0 L808.5,702.6 L808.8,682.0"/>
<path class="series" stroke="#008000" d="M392.6,692.6 L392.8,702.0 L393.1,694.7 L393.3,705.7 L393.6,694.6 L393.8,705.0 L394.1,697.0 L394.3,706.3 L394.6,695.9 L394.8,705.6 L395.1,696.5 L395.3,706.5 L395.6,694.5 L395.8,708.1 L396.1,697.0 L396.3,707.7 L396.6,693.4 L396.8,708.5 L397.1,695.4 L397.3,707.5 L397.6,694.5 L397.8,707.8 L398.1,695.4 L398.3,706.1 L398.6,693.5 L398.8,707.3 L399.1,692.8 L399.3,705.0 L399.6,694.7 L399.8,708.9 L400.1,692.2 L400.3,708.3 L400.6,692.7 L400.8,706.5 L401.1,693.2 L401.3,708.2 L401.6,694.2 L401.8,707.7 L402.1,693.8 L402.3,708.5 L402.6,692.9 L402.8,708.5 L403.1,694.0 L403.3,709.4 L403.6,695.1 L403.8,709.3 L404.1,693.6 L404.3,710.3 L404.6,695.5 L404.8,708.8 L405.1,696.3 L405.3,706.3 L405.6,694.9 L405.8,706.0 L406.1,694.1 L406.3,707.0 L406.6,694.9 L406.8,708.1 L407.1,696.3 L407.3,706.6 L407.6,694.1 L407.8,706.9 L408.1,695.3 L408.3,708.3 L408.6,693.4 L408.8,707.3 L409.1,692.1 L409.3,707.5 L409.6,692.7 L409.8,706.0 L410.1,693.4 L410.3,704.9 L410.6,692.6 L410.8,705.3 L411.1,692.6 L411.3,707.7 L411.6,695.5 L411.8,709.7 L412.1,695.5 L412.3,706.9 L412.6,696.9 L412.8,708.6 L413.1,697.1 L413.3,708.9 L413.6,695.1 L413.8,708.5 L414.1,695.3 L414.3,707.4 L414.6,694.8 L414.8,707.8 L415.1,693.8 L415.3,708.6 L415.6,691.8 L415.8,709.1 L416.1,691.9 L416.3,705.4 L416.6,694.7 L416.8,707.6 L417.1,692.5 L417.3,706.6 L417.6,695.2 L417.8,705.7 L418.1,692.7 L418.3,710.4 L418.6,693.4 L418.8,708.9 L419.1,695.5 L419.3,709.5 L419.6,697.0 L419.8,708.3 L420.1,694.1 L420.3,706.9 L420.6,694.2 L420.8,705.1 L421.1,694.7 L421.3,707.3 L421.6,690.9 L421.8,704.3 L422.1,688.7 L422.3,706.8 L422.6,691.2 L422.8,707.5 L423.1,693.6 L423.3,709.2 L423.6,696.3 L423.8,707.1 L424.1,695.9 L424.3,705.3 L424.6,694.0 L424.8,709.0 L425.1,694.7 L425.3,708.0 L425.6,696.0 L425.8,707.5 L426.1,695.1 L426.3,707.2 L426.6,695.3 L426.8,707.4 L427.1,696.6 L427.3,707.7 L427.6,693.8 L427.8,707.5 L428.1,692.4 L428.3,708.2 L428.6,693.4 L428.8,707.7 L429.1,693.3 L429.3,706.9 L429.6,691.5 L429.8,708.9 L430.1,692.7 L430.3,705.1 L430.6,693.9 L430.8,705.7 L431.1,693.6 L431.3,704.6 L431.6,695.2 L431.8,705.3 L432.1,695.9 L432.3,706.8 L432.6,695.2 L432.8,705.4 L433.1,696.2 L433.3,706.7 L433.6,698.4 L433.8,706.0 L434.1,695.5 L434.3,706.1 L434.6,694.0 L434.8,706.3 L435.1,697.5 L435.3,705.2 L435.6,693.0 L435.8,706.6 L436.1,693.6 L436.3,706.3 L436.6,693.3 L436.8,704.3 L437.1,693.0 L437.3,708.6 L437.6,696.3 L437.8,707.2 L438.1,694.4 L438.3,706.2 L438.6,698.0 L438.8,706.6 L439.1,695.8 L439.3,707.8 L439.6,696.3 L439.8,707.3 L440.1,697.0 L440.3,708.2 L440.6,696.3 L440.8,707.2 L441.1,693.6 L441.3,708.8 L441.6,693.0 L441.8,709.2 L442.1,695.9 L442.3,708.1 L442.6,695.4 L442.8,708.3 L443.1,693.9 L443.3,707.0 L443.6,694.0 L443.8,709.9 L444.1,693.6 L444.3,708.7 L444.6,693.0 L444.8,707.7 L445.1,693.1 L445.3,707.5 L445.6,695.3 L445.8,703.8 L446.1,695.2 L446.3,705.6 L446.6,696.7 L446.8,703.9 L447.1,693.5 L447.3,706.8 L447.6,694.7 L447.8,705.1 L448.1,694.0 L448.3,706.4 L448.6,694.7 L448.8,708.9 L449.1,697.2 L449.3,709.1 L449.6,693.7 L449.8,709.7 L450.1,694.3 L450.3,708.5 L450.6,694.4 L450.8,706.8 L451.1,695.3 L451.3,706.0 L451.6,694.9 L451.8,704.4 L452.1,695.8 L452.3,702.5 L452.6,693.0 L452.8,706.7 L453.1,695.5 L453.3,702.3 L453.6,696.9 L453.8,703.1 L454.1,695.0 L454.3,706.4 L454.6,696.4 L454.8,706.9 L455.1,697.6 L455.3,705.7 L455.6,695.2 L455.8,704.2 L456.1,695.4 L456.3,702.5 L456.6,693.7 L456.8,704.0 L457.1,691.8 L457.3,702.0 L457.6,692.8 L457.8,704.4 L458.1,689.8 L458.3,706.7 L458.6,691.9 L458.8,703.5 L459.1,691.6 L459.3,705.8 L459.6,688.9 L459.8,705.8 L460.1,693.1 L460.3,708.2 L460.6,688.6 L460.8,705.7 L461.1,688.6 L461.3,707.2 L461.6,688.5 L461.8,708.0 L462.1,688.5 L462.3,705.8 L462.6,686.2 L462.8,708.1 L463.1,689.4 L463.3,705.2 L463.6,687.9 L463.8,707.7 L464.1,688.6 L464.3,704.2 L464.6,689.1 L464.8,703.9 L465.1,687.6 L465.3,703.5 L465.6,687.4 L465.8,701.9 L466.1,689.1 L466.3,705.1 L466.6,690.1 L466.8,704.0 L467.1,688.2 L467.3,702.9 L467.6,689.6 L467.8,703.8 L468.1,688.6 L468.3,705.5 L468.6,689.3 L468.8,703.1 L469.1,690.1 L469.3,701.7 L469.6,688.9 L469.8,704.0 L470.1,693.2 L470.3,699.0 L470.6,693.5 L470.8,702.6 L471.1,695.5 L471.3,701.1 L471.6,696.8 L471.8,702.7 L472.1,697.6 L472.3,701.7 L472.6,694.0 L472.8,703.4 L473.1,693.5 L473.3,703.4 L473.6,695.1 L473.8,703.1 L474.1,693.0 L474.3,703.4 L474.6,695.2 L474.8,703.5 L475.1,694.1 L475.3,705.8 L475.6,692.7 L475.8,702.5 L476.1,695.5 L476.3,706.0 L476.6,697.2 L476.8,705.5 L477.1,693.5 L477.3,705.9 L477.6,691.8 L477.8,705.7 L478.1,693.0 L478.3,704.9 L478.6,694.5 L478.8,706.6 L479.1,692.4 L479.3,706.0 L479.6,694.4 L479.8,704.1 L480.1,696.3 L480.3,704.2 L480.6,694.5 L480.8,701.7 L481.1,695.4 L481.3,704.4 L481.6,693.9 L481.8,705.5 L482.1,696.6 L482.3,703.9 L482.6,694.8 L482.8,706.9 L483.1,695.1 L483.3,706.0 L483.6,695.5 L483.8,704.4 L484.1,697.3 L484.3,704.9 L484.6,695.2 L484.8,705.3 L485.1,695.1 L485.3,706.8 L485.6,695.5 L485.8,705.6 L486.1,693.5 L486.3,705.1 L486.6,693.0 L486.8,703.4 L487.1,695.1 L487.3,704.9 L487.6,695.3 L487.8,704.0 L488.1,694.0 L488.3,705.7 L488.6,694.8 L488.8,706.8 L489.1,696.0 L489.3,704.0 L489.6,694.2 L489.8,701.2 L490.1,693.3 L490.3,704.3 L490.6,693.0 L490.8,702.3 L491.1,695.4 L491.3,703.3 L491.6,693.4 L491.8,702.4 L492.1,692.8 L492.3,703.7 L492.6,691.0 L492.8,703.7 L493.1,692.9 L493.3,704.0 L493.6,692.2 L493.8,703.7 L494.1,692.9 L494.3,704.8 L494.6,694.5 L494.8,704.4 L495.1,694.5 L495.3,702.5 L495.6,693.9 L495.8,705.9 L496.1,694.3 L496.3,706.3 L496.6,694.7 L496.8,706.4 L497.1,694.5 L497.3,706.4 L497.6,696.0 L497.8,702.8 L498.1,696.6 L498.3,704.4 L498.6,695.8 L498.8,703.5 L499.1,696.1 L499.3,703.3 L499.6,696.4 L499.8,703.9 L500.1,698.9 L500.3,703.4 L500.6,696.5 L500.8,704.1 L501.1,695.1 L501.3,704.0 L501.6,695.4 L501.8,704.8 L502.1,695.8 L502.3,702.7 L502.6,693.7 L502.8,706.3 L503.1,695.2 L503.3,704.8 L503.6,696.7 L503.8,704.4 L504.1,695.3 L504.3,705.9 L504.6,694.1 L504.8,703.8 L505.1,691.7 L505.3,704.5 L505.6,690.9 L505.8,701.5 L506.1,691.1 L506.3,701.4 L506.6,691.3 L506.8,704.2 L507.1,691.5 L507.3,702.8 L507.6,690.5 L507.8,702.4 L508.1,690.5 L508.3,703.3 L508.6,690.2 L508.8,703.7 L509.1,692.5 L509.3,700.5 L509.6,691.3 L509.8,703.0 L510.1,693.2 L510.3,704.7 L510.6,692.9 L510.8,702.3 L511.1,694.0 L511.3,703.4 L511.6,696.6 L511.8,704.5 L512.1,692.6 L512.3,704.2 L512.6,693.9 L512.8,705.6 L513.1,692.2 L513.3,707.0 L513.6,693.3 L513.8,704.9 L514.1,694.3 L514.3,705.9 L514.6,695.2 L514.8,703.6 L515.1,693.8 L515.3,705.9 L515.6,693.7 L515.8,706.0 L516.1,696.7 L516.3,706.5 L516.6,694.3 L516.8,705.2 L517.1,694.3 L517.3,705.7 L517.6,696.3 L517.8,704.6 L518.1,695.1 L518.3,705.2 L518.6,693.2 L518.8,704.1 L519.1,694.3 L519.3,701.1 L519.6,694.3 L519.8,702.6 L520.1,695.1 L520.3,701.8 L520.6,693.9 L520.8,702.0 L521.1,693.4 L521.3,700.8 L521.6,693.4 L521.8,703.3 L522.1,693.4 L522.3,704.7 L522.6,694.4 L522.8,703.4 L523.1,694.0 L523.3,700.7 L523.6,697.3 L523.8,702.7 L524.1,694.1 L524.3,703.2 L524.6,694.1 L524.8,701.2 L525.1,696.6 L525.3,703.7 L525.6,696.2 L525.8,703.5 L526.1,692.3 L526.3,704.0 L526.6,692.6 L526.8,703.1 L527.1,693.3 L527.3,703.2 L527.6,693.9 L527.8,701.5 L528.1,694.9 L528.3,703.8 L528.6,694.4 L528.8,703.5 L529.1,694.8 L529.3,702.6 L529.6,692.1 L529.8,702.5 L530.1,695.1 L530.3,700.6 L530.6,692.4 L530.8,702.2 L531.1,690.7 L531.3,701.5 L531.6,690.7 L531.8,704.3 L532.1,690.7 L532.3,703.1 L532.6,691.5 L532.8,703.1 L533.1,691.8 L533.3,704.8 L533.6,692.7 L533.8,704.9 L534.1,691.8 L534.3,704.5 L534.6,693.6 L534.8,703.3 L535.1,691.8 L535.3,704.0 L535.6,691.9 L535.8,701.2 L536.1,691.1 L536.3,702.5 L536.6,690.4 L536.8,700.2 L537.1,692.3 L537.3,703.7 L537.6,690.0 L537.8,703.7 L538.1,692.1 L538.3,704.2 L538.6,692.2 L538.8,702.1 L539.1,694.1 L539.3,703.0 L539.6,692.7 L539.8,703.0 L540.1,692.2 L540.3,700.3 L540.6,691.1 L540.8,704.0 L541.1,693.3 L541.3,701.5 L541.6,691.8 L541.8,701.7 L542.1,690.4 L542.3,703.4 L542.6,691.5 L542.8,701.8 L543.1,689.9 L543.3,703.3 L543.6,690.0 L543.8,701.2 L544.1,689.2 L544.3,703.3 L544.6,689.3 L544.8,703.1 L545.1,690.5 L545.3,703.8 L545.6,690.3 L545.8,704.1 L546.1,693.7 L546.3,702.7 L546.6,692.7 L546.8,702.0 L547.1,690.1 L547.3,703.1 L547.6,691.5 L547.8,702.1 L548.1,690.4 L548.3,702.6 L548.6,690.4 L548.8,702.6 L549.1,689.4 L549.3,700.7 L549.6,692.1 L549.8,702.5 L550.1,690.0 L550.3,700.3 L550.6,692.1 L550.8,704.0 L551.1,690.9 L551.3,702.0 L551.6,691.3 L551.8,703.1 L552.1,688.6 L552.3,701.8 L552.6,690.5 L552.8,702.2 L553.1,693.2 L553.3,701.1 L553.6,692.0 L553.8,700.5 L554.1,689.3 L554.3,700.7 L554.6,683.0 L554.8,701.5 L555.1,689.5 L555.3,701.0 L555.6,691.1 L555.8,701.8 L556.1,691.0 L556.3,703.0 L556.6,690.9 L556.8,702.2 L557.1,688.3 L557.3,702.4 L557.6,687.6 L557.8,700.9 L558.1,688.6 L558.3,703.0 L558.6,690.2 L558.8,701.0 L559.1,690.3 L559.3,700.1 L559.6,692.3 L559.8,701.2 L560.1,691.5 L560.3,702.3 L560.6,689.8 L560.8,702.7 L561.1,691.8 L561.3,700.7 L561.6,690.0 L561.8,700.7 L562.1,689.5 L562.3,701.3 L562.6,690.9 L562.8,700.2 L563.1,692.7 L563.3,700.2 L563.6,693.0 L563.8,699.5 L564.1,691.2 L564.3,698.6 L564.6,689.7 L564.8,699.6 L565.1,690.9 L565.3,699.1 L565.6,688.4 L565.8,699.7 L566.1,686.4 L566.3,700.2 L566.6,687.3 L566.8,698.7 L567.1,688.3 L567.3,700.8 L567.6,687.6 L567.8,700.9 L568.1,689.3 L568.3,700.3 L568.6,689.3 L568.8,699.7 L569.1,687.9 L569.3,697.5 L569.6,686.3 L569.8,697.4 L570.1,687.0 L570.3,697.5 L570.6,687.1 L570.8,700.6 L571.1,689.9 L571.3,700.0 L571.6,687.4 L571.8,700.2 L572.1,685.5 L572.3,700.3 L572.6,684.3 L572.8,700.3 L573.1,684.6 L573.3,700.5 L573.6,685.2 L573.8,700.4 L574.1,686.1 L574.3,698.5 L574.6,685.4 L574.8,699.3 L575.1,686.9 L575.3,698.8 L575.6,689.6 L575.8,696.0 L576.1,689.4 L576.3,695.1 L576.6,686.4 L576.8,697.6 L577.1,686.5 L577.3,698.7 L577.6,687.1 L577.8,699.7 L578.1,689.1 L578.3,700.9 L578.6,690.1 L578.8,699.2 L579.1,685.7 L579.3,696.4 L579.6,685.8 L579.8,629.6 L580.1,511.8 L580.3,575.9 L580.6,539.5 L580.8,572.0 L581.1,543.0 L581.3,572.8 L581.6,550.4 L581.8,573.2 L582.1,555.3 L582.3,570.6 L582.6,556.3 L582.8,573.7 L583.1,554.8 L583.3,572.1 L583.6,558.2 L583.8,573.2 L584.1,556.5 L584.3,571.7 L584.6,554.8 L584.8,567.7 L585.1,557.5 L585.3,572.3 L585.6,558.8 L585.8,570.3 L586.1,555.5 L586.3,568.7 L586.6,554.5 L586.8,568.4 L587.1,556.9 L587.3,570.5 L587.6,554.2 L587.8,569.2 L588.1,556.1 L588.3,570.3 L588.6,555.0 L588.8,569.0 L589.1,553.8 L589.3,569.5 L589.6,554.7 L589.8,568.8 L590.1,557.9 L590.3,569.8 L590.6,554.8 L590.8,567.8 L591.1,554.5 L591.3,568.2 L591.6,554.7 L591.8,570.0 L592.1,554.9 L592.3,568.0 L592.6,553.1 L592.8,566.4 L593.1,555.3 L593.3,566.7 L593.6,554.4 L593.8,567.3 L594.1,555.8 L594.3,568.5 L594.6,557.5 L594.8,570.1 L595.1,556.3 L595.3,569.6 L595.6,555.4 L595.8,570.9 L596.1,556.2 L596.3,568.0 L596.6,555.8 L596.8,570.4 L597.1,556.0 L597.3,569.1 L597.6,556.5 L597.8,569.7 L598.1,553.7 L598.3,571.4 L598.6,552.5 L598.8,571.7 L599.1,552.1 L599.3,572.0 L599.6,554.1 L599.8,571.8 L600.1,553.9 L600.3,572.2 L600.6,555.5 L600.8,571.3 L601.1,558.1 L601.3,567.9 L601.6,553.9 L601.8,569.6 L602.1,555.0 L602.3,567.9 L602.6,554.4 L602.8,567.4 L603.1,555.3 L603.3,568.8 L603.6,556.4 L603.8,569.3 L604.1,556.1 L604.3,567.8 L604.6,555.7 L604.8,570.0 L605.1,556.9 L605.3,568.9 L605.6,558.4 L605.8,568.6 L606.1,555.7 L606.3,568.3 L606.6,555.6 L606.8,568.8 L607.1,552.5 L607.3,568.2 L607.6,554.5 L607.8,566.5 L608.1,591.6 L608.3,591.3 L608.6,585.7 L608.8,590.2 L609.1,593.7 L609.3,590.3 L609.6,589.0 L609.8,578.0 L610.1,555.2 L610.3,575.9 L610.6,552.9 L610.8,576.6 L611.1,554.5 L611.3,574.0 L611.6,552.9 L611.8,578.7 L612.1,556.1 L612.3,575.7 L612.6,555.4 L612.8,577.4 L613.1,555.4 L613.3,578.4 L613.6,555.4 L613.8,581.0 L614.1,555.4 L614.3,597.7 L614.6,618.1 L614.8,673.7 L615.1,690.7 L615.3,699.7 L615.6,685.9 L615.8,702.7 L616.1,675.9 L616.3,701.9 L616.6,685.8 L616.8,699.7 L617.1,690.6 L617.3,700.6 L617.6,691.2 L617.8,700.0 L618.1,689.6 L618.3,702.8 L618.6,691.0 L618.8,702.6 L619.1,691.2 L619.3,703.9 L619.6,692.7 L619.8,699.9 L620.1,694.8 L620.3,702.9 L620.6,693.1 L620.8,701.5 L621.1,692.7 L621.3,701.5 L621.6,691.7 L621.8,700.0 L622.1,690.6 L622.3,702.4 L622.6,692.3 L622.8,703.7 L623.1,690.9 L623.3,703.2 L623.6,692.9 L623.8,702.7 L624.1,690.6 L624.3,703.6 L624.6,693.7 L624.8,701.3 L625.1,693.4 L625.3,702.9 L625.6,692.4 L625.8,703.4 L626.1,691.1 L626.3,705.5 L626.6,691.9 L626.8,702.7 L627.1,689.0 L627.3,701.1 L627.6,690.5 L627.8,703.0 L628.1,689.6 L628.3,704.1 L628.6,689.7 L628.8,705.0 L629.1,688.9 L629.3,703.6 L629.6,687.6 L629.8,703.6 L630.1,690.7 L630.3,701.2 L630.6,691.5 L630.8,703.7 L631.1,690.9 L631.3,703.7 L631.6,690.3 L631.8,703.4 L632.1,690.6 L632.3,701.0 L632.6,691.3 L632.8,702.6 L633.1,690.4 L633.3,701.7 L633.6,692.0 L633.8,702.4 L634.1,693.9 L634.3,699.9 L634.6,688.8 L634.8,700.3 L635.1,690.1 L635.3,701.1 L635.6,688.5 L635.8,702.9 L636.1,687.7 L636.3,703.4 L636.6,689.1 L636.8,701.2 L637.1,690.8 L637.3,701.8 L637.6,689.1 L637.8,702.0 L638.1,689.2 L638.3,697.7 L638.6,687.3 L638.8,701.4 L639.1,690.9 L639.3,702.4 L639.6,688.0 L639.8,700.0 L640.1,689.0 L640.3,703.2 L640.6,689.5 L640.8,700.2 L641.1,688.8 L641.3,700.9 L641.6,687.9 L641.8,701.9 L642.1,689.1 L642.3,703.1 L642.6,691.1 L642.8,702.9 L643.1,691.0 L643.3,701.3 L643.6,693.2 L643.8,701.3 L644.1,694.3 L644.3,704.0 L644.6,690.9 L644.8,703.7 L645.1,691.0 L645.3,705.4 L645.6,690.3 L645.8,701.8 L646.1,692.2 L646.3,706.7 L646.6,690.7 L646.8,706.5 L647.1,689.1 L647.3,703.1 L647.6,692.5 L647.8,706.6 L648.1,690.2 L648.3,706.5 L648.6,693.3 L648.8,703.6 L649.1,690.4 L649.3,707.0 L649.6,692.0 L649.8,707.9 L650.1,693.6 L650.3,705.5 L650.6,691.0 L650.8,704.9 L651.1,693.1 L651.3,705.3 L651.6,691.6 L651.8,701.5 L652.1,691.9 L652.3,702.5 L652.6,690.1 L652.8,704.7 L653.1,693.2 L653.3,704.2 L653.6,691.7 L653.8,704.2 L654.1,691.5 L654.3,700.7 L654.6,693.9 L654.8,702.7 L655.1,690.0 L655.3,703.9 L655.6,690.8 L655.8,699.4 L656.1,689.9 L656.3,702.1 L656.6,687.7 L656.8,704.0 L657.1,689.7 L657.3,703.9 L657.6,691.7 L657.8,704.0 L658.1,689.5 L658.3,704.1 L658.6,691.5 L658.8,705.9 L659.1,692.0 L659.3,705.9 L659.6,693.2 L659.8,705.3 L660.1,689.8 L660.3,703.6 L660.6,690.8 L660.8,704.0 L661.1,691.1 L661.3,704.4 L661.6,690.5 L661.8,703.1 L662.1,691.0 L662.3,702.8 L662.6,693.6 L662.8,700.5 L663.1,691.6 L663.3,704.2 L663.6,693.0 L663.8,705.5 L664.1,690.4 L664.3,705.0 L664.6,691.2 L664.8,702.2 L665.1,692.9 L665.3,705.7 L665.6,694.0 L665.8,704.7 L666.1,693.8 L666.3,703.1 L666.6,694.2 L666.8,706.2 L667.1,694.1 L667.3,705.8 L667.6,692.7 L667.8,704.2 L668.1,690.8 L668.3,700.9 L668.6,692.0 L668.8,705.8 L669.1,692.1 L669.3,708.0 L669.6,690.9 L669.8,706.5 L670.1,692.6 L670.3,706.4 L670.6,694.8 L670.8,707.0 L671.1,692.9 L671.3,706.6 L671.6,691.5 L671.8,703.9 L672.1,690.0 L672.3,706.9 L672.6,691.5 L672.8,703.3 L673.1,691.1 L673.3,704.8 L673.6,690.4 L673.8,707.9 L674.1,693.7 L674.3,707.9 L674.6,690.8 L674.8,702.0 L675.1,694.0 L675.3,706.9 L675.6,691.8 L675.8,707.6 L676.1,693.5 L676.3,705.0 L676.6,692.1 L676.8,705.7 L677.1,691.8 L677.3,706.8 L677.6,694.1 L677.8,705.4 L678.1,691.2 L678.3,708.7 L678.6,691.9 L678.8,708.2 L679.1,694.1 L679.3,708.4 L679.6,693.4 L679.8,708.3 L680.1,693.4 L680.3,707.1 L680.6,693.6 L680.8,707.6 L681.1,690.6 L681.3,706.2 L681.6,685.6 L681.8,707.4 L682.1,681.6 L682.3,707.7 L682.6,685.9 L682.8,706.4 L683.1,689.2 L683.3,707.5 L683.6,693.6 L683.8,707.8 L684.1,693.8 L684.3,703.4 L684.6,694.3 L684.8,705.3 L685.1,695.5 L685.3,706.7 L685.6,694.8 L685.8,702.5 L686.1,695.1 L686.3,700.9 L686.6,693.6 L686.8,703.4 L687.1,695.1 L687.3,704.0 L687.6,692.2 L687.8,703.9 L688.1,693.2 L688.3,703.8 L688.6,696.0 L688.8,702.7 L689.1,693.4 L689.3,705.1 L689.6,693.4 L689.8,704.1 L690.1,694.9 L690.3,705.5 L690.6,696.6 L690.8,705.4 L691.1,696.4 L691.3,706.4 L691.6,694.9 L691.8,704.6 L692.1,694.5 L692.3,704.6 L692.6,697.4 L692.8,704.8 L693.1,694.5 L693.3,705.1 L693.6,696.7 L693.8,705.9 L694.1,694.8 L694.3,704.8 L694.6,694.4 L694.8,704.0 L695.1,693.4 L695.3,703.1 L695.6,692.1 L695.8,702.6 L696.1,693.0 L696.3,704.9 L696.6,692.1 L696.8,705.0 L697.1,693.5 L697.3,706.2 L697.6,694.1 L697.8,704.1 L698.1,693.0 L698.3,705.6 L698.6,693.4 L698.8,703.2 L699.1,695.6 L699.3,702.5 L699.6,695.6 L699.8,702.2 L700.1,693.2 L700.3,705.0 L700.6,693.8 L700.8,705.3 L701.1,691.3 L701.3,704.3 L701.6,690.6 L701.8,707.2 L702.1,690.3 L702.3,705.6 L702.6,692.2 L702.8,706.5 L703.1,693.4 L703.3,700.5 L703.6,693.0 L703.8,706.1 L704.1,694.3 L704.3,704.9 L704.6,695.4 L704.8,705.3 L705.1,693.4 L705.3,706.4 L705.6,693.4 L705.8,706.6 L706.1,693.4 L706.3,704.8 L706.6,694.6 L706.8,706.8 L707.1,694.2 L707.3,705.1 L707.6,695.3 L707.8,704.7 L708.1,693.0 L708.3,704.7 L708.6,692.5 L708.8,704.9 L709.1,692.3 L709.3,700.3 L709.6,695.6 L709.8,705.4 L710.1,693.6 L710.3,701.7 L710.6,695.7 L710.8,706.2 L711.1,693.3 L711.3,706.3 L711.6,691.8 L711.8,705.2 L712.1,694.6 L712.3,706.0 L712.6,693.3 L712.8,706.9 L713.1,693.9 L713.3,704.3 L713.6,694.1 L713.8,705.1 L714.1,698.6 L714.3,701.8 L714.6,696.1 L714.8,704.3 L715.1,693.5 L715.3,702.3 L715.6,693.6 L715.8,702.4 L716.1,694.8 L716.3,700.9 L716.6,693.7 L716.8,705.1 L717.1,693.1 L717.3,702.5 L717.6,693.3 L717.8,703.5 L718.1,693.2 L718.3,704.6 L718.6,694.8 L718.8,705.0 L719.1,697.2 L719.3,706.5 L719.6,693.5 L719.8,706.5 L720.1,694.1 L720.3,705.7 L720.6,696.1 L720.8,704.5 L721.1,699.7 L721.3,706.9 L721.6,693.4 L721.8,706.8 L722.1,692.5 L722.3,706.2 L722.6,692.4 L722.8,705.5 L723.1,692.7 L723.3,704.0 L723.6,693.6 L723.8,706.9 L724.1,694.6 L724.3,705.2 L724.6,695.8 L724.8,705.9 L725.1,697.0 L725.3,703.7 L725.6,694.3 L725.8,702.1 L726.1,695.6 L726.3,703.4 L726.6,695.6 L726.8,703.9 L727.1,693.9 L727.3,704.7 L727.6,696.1 L727.8,705.7 L728.1,696.2 L728.3,705.1 L728.6,694.4 L728.8,707.5 L729.1,696.9 L729.3,706.8 L729.6,694.5 L729.8,705.9 L730.1,694.8 L730.3,705.2 L730.6,696.2 L730.8,702.7 L731.1,695.4 L731.3,704.7 L731.6,694.3 L731.8,703.8 L732.1,693.4 L732.3,703.5 L732.6,691.9 L732.8,705.3 L733.1,691.5 L733.3,704.7 L733.6,690.4 L733.8,704.5 L734.1,696.1 L734.3,707.7 L734.6,693.3 L734.8,705.7 L735.1,694.1 L735.3,706.1 L735.6,697.1 L735.8,708.1 L736.1,695.9 L736.3,704.9 L736.6,696.0 L736.8,706.9 L737.1,693.9 L737.3,704.9 L737.6,693.2 L737.8,706.1 L738.1,696.0 L738.3,705.9 L738.6,694.5 L738.8,705.7 L739.1,697.4 L739.3,703.1 L739.6,696.3 L739.8,705.3 L740.1,695.3 L740.3,702.1 L740.6,693.8 L740.8,702.0 L741.1,691.6 L741.3,703.8 L741.6,694.0 L741.8,703.4 L742.1,691.2 L742.3,703.7 L742.6,694.8 L742.8,706.9 L743.1,694.4 L743.3,708.1 L743.6,692.5 L743.8,708.5 L744.1,694.1 L744.3,706.8 L744.6,693.4 L744.8,706.2 L745.1,696.9 L745.3,706.1 L745.6,694.7 L745.8,706.4 L746.1,694.4 L746.3,704.7 L746.6,694.1 L746.8,705.1 L747.1,695.0 L747.3,705.5 L747.6,696.9 L747.8,704.0 L748.1,694.2 L748.3,700.9 L748.6,692.0 L748.8,703.4 L749.1,692.9 L749.3,706.3 L749.6,694.5 L749.8,702.3 L750.1,695.4 L750.3,702.5 L750.6,694.2 L750.8,704.6 L751.1,695.1 L751.3,701.8 L751.6,693.9 L751.8,704.2 L752.1,696.5 L752.3,705.2 L752.6,696.6 L752.8,706.5 L753.1,694.9 L753.3,706.3 L753.6,692.9 L753.8,703.0 L754.1,695.5 L754.3,703.3 L754.6,694.5 L754.8,701.2 L755.1,694.1 L755.3,704.4 L755.6,697.6 L755.8,707.3 L756.1,695.0 L756.3,706.9 L756.6,692.9 L756.8,708.9 L757.1,694.6 L757.3,706.9 L757.6,692.8 L757.8,707.5 L758.1,695.7 L758.3,704.6 L758.6,694.3 L758.8,706.0 L759.1,694.8 L759.3,705.0 L759.6,692.6 L759.8,704.1 L760.1,694.1 L760.3,705.3 L760.6,692.9 L760.8,701.6 L761.1,692.4 L761.3,702.1 L761.6,693.3 L761.8,702.6 L762.1,694.3 L762.3,704.2 L762.6,692.9 L762.8,703.4 L763.1,694.2 L763.3,702.7 L763.6,692.3 L763.8,704.5 L764.1,692.0 L764.3,705.3 L764.6,692.1 L764.8,706.8 L765.1,693.0 L765.3,706.8 L765.6,692.8 L765.8,706.5 L766.1,693.5 L766.3,707.2 L766.6,692.9 L766.8,703.5 L767.1,693.4 L767.3,704.8 L767.6,692.3 L767.8,707.1 L768.1,692.8 L768.3,705.1 L768.6,692.7 L768.8,704.1 L769.1,696.3 L769.3,704.8 L769.6,693.4 L769.8,703.9 L770.1,692.3 L770.3,705.1 L770.6,697.6 L770.8,707.5 L771.1,696.9 L771.3,708.1 L771.6,696.4 L771.8,705.9 L772.1,694.8 L772.3,707.2 L772.6,697.4 L772.8,706.8 L773.1,694.5 L773.3,704.8 L773.6,692.4 L773.8,706.4 L774.1,692.7 L774.3,706.4 L774.6,691.5 L774.8,705.3 L775.1,693.6 L775.3,704.8 L775.6,693.6 L775.8,703.3 L776.1,695.3 L776.3,706.4 L776.6,693.0 L776.8,705.9 L777.1,696.1 L777.3,706.4 L777.6,693.6 L777.8,706.1 L778.1,696.6 L778.3,706.1 L778.6,695.8 L778.8,709.2 L779.1,694.3 L779.3,707.4 L779.6,695.7 L779.8,705.7 L780.1,693.6 L780.3,707.7 L780.6,692.2 L780.8,706.4 L781.1,692.1 L781.3,706.6 L781.6,692.1 L781.8,707.2 L782.1,696.2 L782.3,704.9 L782.6,692.8 L782.8,705.2 L783.1,692.1 L783.3,704.8 L783.6,693.2 L783.8,705.4 L784.1,692.9 L784.3,704.8 L784.6,693.7 L784.8,703.7 L785.1,692.7 L785.3,705.5 L785.6,694.7 L785.8,704.9 L786.1,693.9 L786.3,706.4 L786.6,699.3 L786.8,706.0 L787.1,696.1 L787.3,708.0 L787.6,692.1 L787.8,708.4 L788.1,691.9 L788.3,705.9 L788.6,693.0 L788.8,706.7 L789.1,694.0 L789.3,708.9 L789.6,693.9 L789.8,703.2 L790.1,694.9 L790.3,706.7 L790.6,696.7 L790.8,705.8 L791.1,698.0 L791.3,705.7 L791.6,695.3 L791.8,705.4 L792.1,696.9 L792.3,707.5 L792.6,694.1 L792.8,706.4 L793.1,524.2 L793.3,697.4 L793.6,491.2 L793.8,695.1 L794.1,447.8 L794.3,597.0 L794.6,435.3 L794.8,550.0 L795.1,431.1 L795.3,544.3 L795.6,427.4 L795.8,543.7 L796.1,424.7 L796.3,542.0 L796.6,419.9 L796.8,540.6 L797.1,418.7 L797.3,545.0 L797.6,422.9 L797.8,536.7 L798.1,422.1 L798.3,539.4 L798.6,417.1 L798.8,548.6 L799.1,413.2 L799.3,548.4 L799.6,410.1 L799.8,546.2 L800.1,410.4 L800.3,550.8 L800.6,405.8 L800.8,545.2 L801.1,411.4 L801.3,546.8 L801.6,408.3 L801.8,543.9 L802.1,406.8 L802.3,543.3 L802.6,401.3 L802.8,542.2 L803.1,398.2 L803.3,542.0 L803.6,394.3 L803.8,541.5 L804.1,401.0 L804.3,536.9 L804.6,398.6 L804.8,547.8 L805.1,393.8 L805.3,545.6 L805.6,392.9 L805.8,537.7 L806.1,388.3 L806.3,541.3 L806.6,385.6 L806.8,533.8 L807.1,380.9 L807.3,520.7 L807.6,390.0 L807.8,528.8 L808.1,388.7 L808.3,526.5 L808.6,386.4 L808.8,529.8"/>
</g>
<g class="axis">
<line x1="150.5" y1="712.5" x2="150.5" y2="717.5"/>
<line x1="266.5" y1="712.5" x2="266.5" y2="717.5"/>
<line x1="383.5" y1="712.5" x2="383.5" y2="717.5"/>
<line x1="499.5" y1="712.5" x2="499.5" y2="717.5"/>
<line x1="615.5" y1="712.5" x2="615.5" y2="717.5"/>
<line x1="731.5" y1="712.5" x2="731.5" y2="717.5"/>
<line x1="848.5" y1="712.5" x2="848.5" y2="717.5"/>
<line x1="964.5" y1="712.5" x2="964.5" y2="717.5"/>
<line x1="1080.5" y1="712.5" x2="1080.5" y2="717.5"/>
<line x1="145.5" y1="712.5" x2="150.5" y2="712.5"/>
<line x1="145.5" y1="624.5" x2="150.5" y2="624.5"/>
<line x1="145.5" y1="536.5" x2="150.5" y2="536.5"/>
<line x1="145.5" y1="448.5" x2="150.5" y2="448.5"/>
<line x1="145.5" y1="360.5" x2="150.5" y2="360.5"/>
<line x1="145.5" y1="272.5" x2="150.5" y2="272.5"/>
<line x1="145.5" y1="184.5" x2="150.5" y2="184.5"/>
<line x1="145.5" y1="96.5" x2="150.5" y2="96.5"/>
<line x1="150.5" y1="96" x2="150.5" y2="713"/>
<line x1="1080.5" y1="96" x2="1080.5" y2="713"/>
<line x1="150" y1="96.5" x2="1081" y2="96.5"/>
<line x1="150" y1="712.5" x2="1081" y2="712.5"/>
</g>
<text class="tl" x="150.00" y="739.70" text-anchor="middle">0</text>
<text class="tl" x="266.25" y="739.70" text-anchor="middle">3</text>
<text class="tl" x="382.50" y="739.70" text-anchor="middle">6</text>
<text class="tl" x="498.75" y="739.70" text-anchor="middle">9</text>
<text class="tl" x="615.00" y="739.70" text-anchor="middle">1<tspan dx="-0.9">2</tspan></text>
<text class="tl" x="731.25" y="739.70" text-anchor="middle">1<tspan dx="-0.9">5</tspan></text>
<text class="tl" x="847.50" y="739.70" text-anchor="middle">1<tspan dx="-0.9">8</tspan></text>
<text class="tl" x="963.75" y="739.70" text-anchor="middle">2<tspan dx="-0.9">1</tspan></text>
<text class="tl" x="1080.00" y="739.70" text-anchor="middle">2<tspan dx="-0.9">4</tspan></text>
<text class="tl" x="141.05" y="720.06" text-anchor="end" transform="rotate(0.03 140 712.0)">0</text>
<text class="tl" x="141.05" y="632.06" text-anchor="end" transform="rotate(0.03 140 624.0)">2</text>
<text class="tl" x="141.05" y="544.06" text-anchor="end" transform="rotate(0.03 140 536.0)">4</text>
<text class="tl" x="141.05" y="456.06" text-anchor="end" transform="rotate(0.03 140 448.0)">6</text>
<text class="tl" x="141.05" y="368.06" text-anchor="end" transform="rotate(0.03 140 360.0)">8</text>
<text class="tl" x="139.35" y="280.06" text-anchor="end" transform="rotate(0.03 140 272.0)">1<tspan dx="-0.9">0</tspan></text>
<text class="tl" x="139.35" y="192.06" text-anchor="end" transform="rotate(0.03 140 184.0)">1<tspan dx="-0.9">2</tspan></text>
<text class="tl" x="139.35" y="104.06" text-anchor="end" transform="rotate(0.03 140 96.0)">1<tspan dx="-0.9">4</tspan></text>
<text class="lab" x="615.5" y="87.7" text-anchor="middle">SWISS-IRSOL of 2026/03/04 with focus code = 01</text>
<text class="lab" x="615" y="765.6" text-anchor="middle">Universal Time [h]</text>
<text class="lab" transform="translate(100.9,405) rotate(-90)" text-anchor="middle">Y-factor [dB]</text>
<rect x="918.5" y="104.5" width="154.0" height="52.0" rx="3.3" ry="3.3" fill="#ffffff" fill-opacity="0.8" stroke="#cccccc" stroke-opacity="0.8" stroke-width="1.39"/>
<line x1="924.3" y1="116.96" x2="957.6" y2="116.96" stroke="#0000ff" stroke-width="2.08" stroke-linecap="square"/>
<line x1="924.3" y1="141.04" x2="957.6" y2="141.04" stroke="#008000" stroke-width="2.08" stroke-linecap="square"/>
<text class="leg" xml:space="preserve" x="971.1" y="122.86">  49.9 MHz</text>
<text class="leg" xml:space="preserve" x="971.1" y="146.94">  70.6 MHz</text>
</svg>
</body>
</html>
